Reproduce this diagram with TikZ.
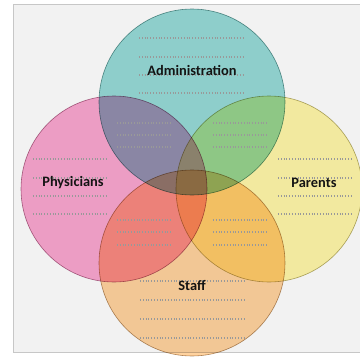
\documentclass[tikz,border=0pt]{standalone}
\usepackage{fontspec}
\newfontfamily\vennfont{Carlito}
\usepackage{tikz}
\usetikzlibrary{positioning}
\definecolor{pagebg}{RGB}{242,242,242}
\definecolor{admfill}{RGB}{150,218,214}
\definecolor{phyfill}{RGB}{249,166,207}
\definecolor{parfill}{RGB}{255,246,168}
\definecolor{stafill}{RGB}{255,210,158}
\tikzset{
  venn/.style={circle, minimum size=139.5pt, inner sep=0pt, line width=0.45pt},
  vennlab/.style={font=\vennfont\bfseries\fontsize{10.8}{12}\selectfont, text=black!92, inner sep=1pt},
  dotrow/.style={draw=gray!80, line width=0.95pt, dash pattern=on 0.75pt off 1.35pt},
}

\begin{document}
\begin{tikzpicture}[x=0.75pt,y=-0.75pt]
\useasboundingbox (0,0) rectangle (360,362);
\draw[draw=black!22, fill=pagebg, line width=0.6pt] (13,4) rectangle (368,352);
\begin{scope}[blend mode=multiply]
\node[venn, fill=phyfill, draw=phyfill!70!black] (phy) at (114,189) {};
\node[venn, fill=parfill, draw=parfill!70!black] (par) at (269,189) {};
\node[venn, fill=admfill, draw=admfill!70!black] (adm) at (192,102) {};
\node[venn, fill=stafill, draw=stafill!70!black] (sta) at (192,263) {};
\end{scope}
% placeholder text rows
\draw[dotrow] (139,38) -- (245,38) (139,57) -- (245,57) (139,75) -- (245,75) (139,93) -- (245,93);
\draw[dotrow] (33,159) -- (107,159) (33,178) -- (107,178) (33,196) -- (107,196) (33,214) -- (107,214);
\draw[dotrow] (278,159) -- (352,159) (278,178) -- (352,178) (278,196) -- (352,196) (278,214) -- (352,214);
\draw[dotrow] (140,281) -- (245,281) (140,300) -- (245,300) (140,319) -- (245,319) (140,338) -- (245,338);
\draw[dotrow] (117,123) -- (172,123) (117,135) -- (172,135) (117,147) -- (172,147);
\draw[dotrow] (213,123) -- (268,123) (213,135) -- (268,135) (213,147) -- (268,147);
\draw[dotrow] (117,220) -- (172,220) (117,232) -- (172,232) (117,245) -- (172,245);
\draw[dotrow] (213,220) -- (268,220) (213,232) -- (268,232) (213,245) -- (268,245);
\node[vennlab] (admlab) at (192,70) {Administration};
\node[vennlab] (phylab) at (73,183) {Physicians};
\node[vennlab] (parlab) at (314,183) {Parents};
\node[vennlab] (stalab) at (192,285) {Staff};
\end{tikzpicture}
\end{document}
